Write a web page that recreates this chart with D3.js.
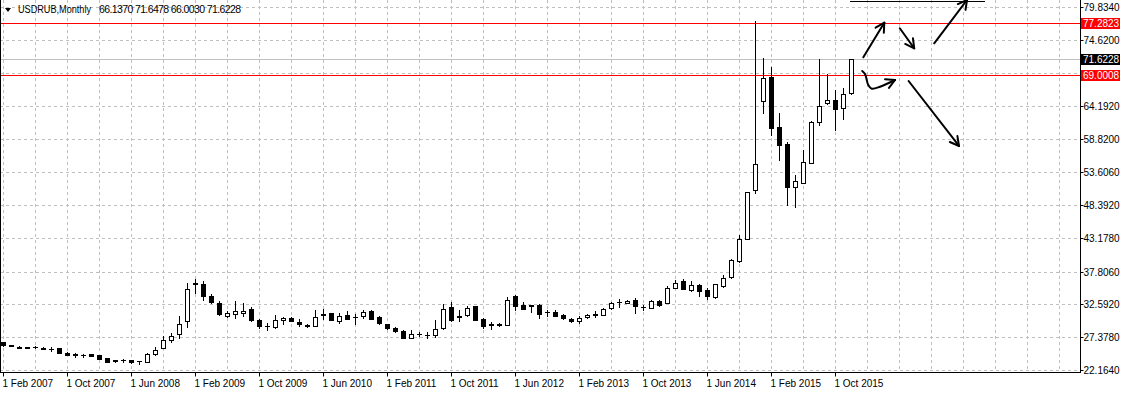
<!DOCTYPE html>
<html>
<head>
<meta charset="utf-8">
<script src="https://cdn.jsdelivr.net/npm/d3@7"></script>
<style>
  body { margin: 0; background: #fff; }
  svg { display: block; font-family: "Liberation Sans", Arial, sans-serif; }
</style>
</head>
<body>
<svg id="chart"></svg>
<script>
const symbol = "USDRUB", period = "Monthly";
const firstMonth = new Date(Date.UTC(2007, 1, 1));

// monthly OHLC, Feb 2007 .. Dec 2015
const open = [
  26.60,26.10,25.90,25.85,25.90,25.70,25.52,25.64,24.90,24.70,24.52,24.70,
  24.48,24.00,23.74,23.72,23.74,23.62,23.48,24.65,25.69,26.96,27.96,29.96,
  35.95,35.87,34.00,32.87,30.80,31.13,31.30,31.85,30.12,29.20,29.00,30.07,
  30.39,29.86,29.35,29.23,30.95,31.18,29.96,30.86,30.62,30.81,31.49,30.54,
  29.44,28.85,28.44,27.33,27.85,27.72,27.65,28.92,32.23,30.60,30.86,32.28,
  30.34,29.37,29.41,29.39,33.97,32.49,32.45,32.49,31.31,31.33,30.86,30.28,
  30.02,30.60,31.10,30.97,32.02,33.00,32.80,33.28,32.25,32.08,33.18,32.87,
  35.24,36.34,34.92,35.65,34.81,33.75,35.55,37.00,39.55,43.04,50.78,64.93,
  68.70,60.75,58.05,51.31,51.94,55.07,61.54,64.66,65.04,63.76,66.137
];
const high = [
  26.65,26.20,25.95,25.90,25.95,25.75,25.90,25.70,24.95,24.80,24.70,24.75,
  24.55,24.05,23.80,23.95,23.80,23.64,24.85,25.90,27.54,27.99,30.70,35.97,
  36.60,36.30,34.30,33.10,31.50,33.07,32.87,32.20,30.20,29.70,30.97,30.60,
  30.55,30.20,29.40,31.65,31.80,31.30,31.20,31.50,31.00,31.70,31.65,30.75,
  29.55,28.95,28.50,28.60,28.20,28.20,30.12,32.70,32.90,31.65,32.30,32.40,
  30.40,29.80,29.70,33.75,34.10,33.00,32.50,32.70,31.75,31.75,31.10,30.50,
  30.70,31.10,31.60,32.00,33.00,33.40,33.30,33.55,32.50,33.30,33.30,35.55,
  36.40,36.65,36.25,35.85,35.20,35.86,37.20,39.86,43.58,50.50,77.65,71.72,
  70.29,62.97,58.41,53.16,57.14,61.80,71.56,69.22,66.68,66.95,71.6478
];
const low = [
  26.05,25.95,25.65,25.65,25.70,25.45,25.25,24.85,24.50,24.17,24.30,24.35,
  23.90,23.40,23.45,23.50,23.35,23.05,23.45,24.60,25.60,26.57,27.18,29.01,
  34.40,33.30,32.80,30.90,30.60,30.45,30.70,29.90,28.85,28.55,28.85,29.50,
  29.90,29.10,29.05,29.20,30.34,30.05,29.70,30.20,29.44,30.40,30.20,29.40,
  28.65,28.20,27.20,27.20,27.50,27.30,27.45,28.75,29.90,30.00,30.70,30.05,
  28.85,28.75,29.10,29.30,31.76,31.85,31.40,30.50,30.70,30.70,30.20,29.75,
  29.70,30.45,30.60,30.90,31.80,32.20,32.75,31.28,31.75,31.95,32.35,32.80,
  35.15,34.98,34.80,33.90,33.50,33.65,35.35,36.84,39.30,42.95,50.35,62.97,
  59.57,55.60,48.45,48.03,51.90,55.00,61.16,64.41,60.32,62.02,66.003
];
const close = [
  26.10,26.05,25.70,25.70,25.75,25.50,25.48,24.90,24.58,24.48,24.48,24.45,
  23.95,23.48,23.54,23.68,23.40,23.58,24.65,25.33,26.86,27.54,29.44,34.97,
  35.80,33.90,32.90,31.02,31.18,31.49,31.60,30.15,29.17,29.15,30.18,30.39,
  29.96,29.48,29.20,30.65,31.00,30.12,30.70,30.34,30.58,31.44,30.28,29.65,
  28.80,28.33,27.27,27.96,27.88,27.68,28.75,31.92,30.18,30.70,32.08,30.12,
  29.17,29.41,29.37,33.34,32.39,31.92,32.30,31.13,31.35,30.76,30.39,30.02,
  30.49,30.97,30.97,31.92,32.80,33.05,33.18,32.33,32.20,33.08,32.55,35.13,
  35.92,35.03,35.60,34.70,33.90,35.76,36.76,39.65,42.94,50.41,54.87,68.54,
  60.59,57.89,51.31,52.16,55.18,61.64,64.09,65.04,63.61,65.99,71.6228
];

const priceTicks = [22.164, 27.378, 32.592, 37.806, 43.178, 48.392, 53.606, 58.82, 64.192, 69.406, 74.62, 79.834];
const levelValues = [77.2823, 69.0008];   // drawn horizontal lines

// hand drawn arrows, [month index, price]
const arrows = [
  [[107.54, 71.88], [110.16, 77.38]],
  [[112.1, 76.49], [113.9, 73.31]],
  [[116.4, 74.10], [120.5, 80.99]],
  [[107.4, 69.70], [107.75, 69.22], [108.16, 67.47], [108.59, 66.89], [109.63, 67.20], [111.5, 68.27]],
  [[113.2, 68.11], [119.5, 57.78]]
];

const W = 1122, H = 394, plotRight = 1080, plotBottom = 372;
const months = d3.utcMonth.range(firstMonth, d3.utcMonth.offset(firstMonth, open.length));
const last = open.length - 1;

const svg = d3.select("#chart").attr("width", W).attr("height", H);
svg.append("rect").attr("width", W).attr("height", H).attr("fill", "#fff");

const x = d3.scaleLinear().domain([0, 134]).range([3, 3 + 8 * 134]);
const y = d3.scaleLinear().domain([22.164, 79.834]).range([370, 7.25]);
const px = v => Math.round(v) + 0.5;

// grid
svg.append("g").selectAll("line")
  .data(d3.range(0, 135, 4).filter(i => x(i) < plotRight - 2))
  .join("line")
    .attr("x1", i => px(x(i))).attr("x2", i => px(x(i)))
    .attr("y1", 0).attr("y2", plotBottom)
    .attr("stroke", "#c0c0c0").attr("stroke-dasharray", "3,3");
svg.append("g").selectAll("line")
  .data(priceTicks)
  .join("line")
    .attr("x1", 0).attr("x2", plotRight)
    .attr("y1", d => px(y(d))).attr("y2", d => px(y(d)))
    .attr("stroke", "#c0c0c0").attr("stroke-dasharray", "3,3");

// level lines
svg.append("line")
  .attr("x1", 0).attr("x2", plotRight)
  .attr("y1", px(y(close[last]))).attr("y2", px(y(close[last])))
  .attr("stroke", "#c0c0c0");
svg.append("g").selectAll("line")
  .data(levelValues)
  .join("line")
    .attr("x1", 0).attr("x2", plotRight)
    .attr("y1", d => px(y(d))).attr("y2", d => px(y(d)))
    .attr("stroke", "#ff0000");

// candles
const candles = svg.append("g").selectAll("g")
  .data(d3.range(open.length))
  .join("g");
candles.append("line")
  .attr("x1", i => px(x(i))).attr("x2", i => px(x(i)))
  .attr("y1", i => Math.round(y(high[i]))).attr("y2", i => Math.round(y(low[i])) + 1)
  .attr("stroke", "#000");
candles.each(function(i) {
  const top = Math.round(y(Math.max(open[i], close[i])));
  const bot = Math.round(y(Math.min(open[i], close[i])));
  const cx = Math.round(x(i));
  const g = d3.select(this);
  if (bot - top < 1) {
    g.append("line")
      .attr("x1", cx - 2).attr("x2", cx + 3)
      .attr("y1", top + 0.5).attr("y2", top + 0.5)
      .attr("stroke", "#000");
  } else {
    g.append("rect")
      .attr("x", cx - 2 + 0.5).attr("y", top + 0.5)
      .attr("width", 4).attr("height", bot - top)
      .attr("fill", close[i] < open[i] ? "#000" : "#fff")
      .attr("stroke", "#000");
  }
});

// arrows
const arrowG = svg.append("g")
  .attr("fill", "none").attr("stroke", "#000").attr("stroke-width", 2)
  .attr("stroke-linecap", "round");
const line = d3.line().x(d => x(d[0])).y(d => y(d[1])).curve(d3.curveCatmullRom);
arrows.forEach(a => {
  arrowG.append("path").attr("d", line(a));
  const p1 = a[a.length - 2], p2 = a[a.length - 1];
  const x1 = x(p1[0]), y1 = y(p1[1]), x2 = x(p2[0]), y2 = y(p2[1]);
  const ang = Math.atan2(y2 - y1, x2 - x1);
  [-0.5, 0.5].forEach(s => {
    arrowG.append("line")
      .attr("x1", x2).attr("y1", y2)
      .attr("x2", x2 - 10 * Math.cos(ang + s)).attr("y2", y2 - 10 * Math.sin(ang + s));
  });
});
svg.append("line")
  .attr("x1", 850).attr("x2", 985).attr("y1", 1.5).attr("y2", 1.5)
  .attr("stroke", "#000");

// axes frame
svg.append("line").attr("x1", 0.5).attr("x2", 0.5).attr("y1", 0).attr("y2", plotBottom)
  .attr("stroke", "#000");

const yAxis = svg.append("g")
  .attr("transform", `translate(${plotRight + 0.5},0.5)`)
  .call(d3.axisRight(y).tickValues(priceTicks).tickFormat(d3.format(".4f"))
    .tickSize(3).tickPadding(0).tickSizeOuter(0));
yAxis.select(".domain").remove();
yAxis.selectAll(".tick").attr("transform", d => `translate(0,${Math.round(y(d))})`);
const labelled = levelValues.concat([close[last]]);
yAxis.selectAll(".tick text")
  .attr("font-size", 10).attr("font-family", "Liberation Sans, Arial, sans-serif")
  .attr("fill", "#000")
  .style("display", d => labelled.some(v => Math.abs(y(v) - y(d)) < 9) ? "none" : null);
svg.append("line").attr("x1", plotRight + 0.5).attr("x2", plotRight + 0.5)
  .attr("y1", 0).attr("y2", plotBottom + 1).attr("stroke", "#000");

const xAxis = svg.append("g")
  .attr("transform", `translate(0.5,${plotBottom + 0.5})`)
  .call(d3.axisBottom(x).tickValues(d3.range(0, open.length, 8))
    .tickFormat(i => d3.utcFormat("%-d %b %Y")(months[i]))
    .tickSize(4).tickSizeOuter(0));
xAxis.select(".domain").remove();
xAxis.selectAll(".tick").attr("transform", d => `translate(${Math.round(x(d))},0)`);
xAxis.selectAll(".tick text")
  .attr("text-anchor", "start").attr("x", -1)
  .attr("font-size", 10).attr("font-family", "Liberation Sans, Arial, sans-serif")
  .attr("fill", "#000");
svg.append("line").attr("x1", 0).attr("x2", plotRight + 1)
  .attr("y1", plotBottom + 0.5).attr("y2", plotBottom + 0.5).attr("stroke", "#000");

// price labels on the scale
const tags = svg.append("g");
[[levelValues[0], "#ff0000"], [close[last], "#000"], [levelValues[1], "#ff0000"]].forEach(([v, c]) => {
  const cy = Math.round(y(v));
  tags.append("rect").attr("x", plotRight + 1).attr("y", cy - 5).attr("width", 39).attr("height", 11)
    .attr("fill", c);
  tags.append("text").attr("x", plotRight + 3).attr("y", cy + 4)
    .attr("font-size", 10).attr("fill", "#fff").text(d3.format(".4f")(v));
});

// header
svg.append("path").attr("d", "M5,8 L11,8 L8,12 Z").attr("fill", "#000");
svg.append("text").attr("x", 18).attr("y", 13).attr("font-size", 10).attr("fill", "#000")
  .attr("textLength", 73).attr("lengthAdjust", "spacingAndGlyphs")
  .text(`${symbol},${period}`);
svg.append("text").attr("x", 99).attr("y", 13).attr("font-size", 10.5).attr("fill", "#000")
  .attr("textLength", 142).attr("lengthAdjust", "spacing")
  .text([open[last], high[last], low[last], close[last]].map(d3.format(".4f")).join(" "));
</script>
</body>
</html>
